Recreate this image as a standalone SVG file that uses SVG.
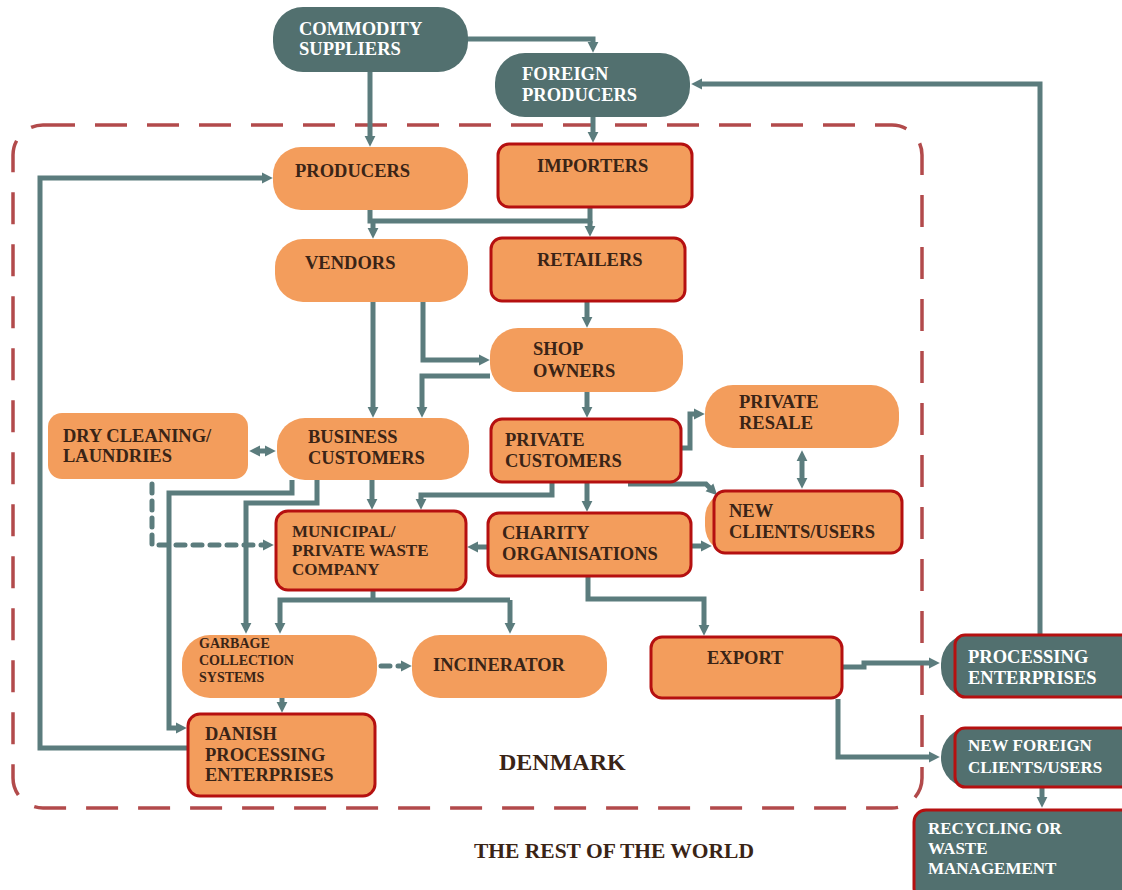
<svg xmlns="http://www.w3.org/2000/svg" width="1122" height="890" viewBox="0 0 1122 890">
  <style>
    .pill { fill: #f39d5c; }
    .box { fill: #f39d5c; stroke: #b51010; stroke-width: 3; }
    .tpill { fill: #52706f; }
    .tbox { fill: #52706f; stroke: #b51010; stroke-width: 3; }
    .lbl { font-family: "Liberation Serif", "Times New Roman", serif; font-weight: bold; font-size: 18.5px; fill: #3a2416; }
    .wlbl { font-family: "Liberation Serif", "Times New Roman", serif; font-weight: bold; font-size: 18.5px; fill: #ffffff; }
    .conn { fill: none; stroke: #5b7c7d; stroke-width: 5; stroke-linejoin: miter; }
    .arr { marker-end: url(#ah); }
    .dbl { marker-end: url(#ah); marker-start: url(#ah); }
    .dash { stroke-dasharray: 9 8; stroke-linecap: round; }
    .border { fill: none; stroke: #b24a4b; stroke-width: 3.5; stroke-dasharray: 32 20; }
  </style>
  <defs>
    <marker id="ah" viewBox="0 0 10 10" refX="2" refY="5" markerUnits="userSpaceOnUse" markerWidth="11" markerHeight="13" orient="auto-start-reverse">
      <path d="M0,0 L10,5 L0,10 z" fill="#5b7c7d"/>
    </marker>
  </defs>

  <rect width="1122" height="890" fill="#ffffff"/>

  <!-- Denmark boundary -->
  <rect class="border" x="13" y="125" width="909" height="683" rx="30"/>

  <!-- connectors -->
  <g id="connectors">
    <path class="conn arr" d="M468 39 H593 V44"/>
    <path class="conn arr" d="M370 72 V138"/>
    <path class="conn arr" d="M593 117 V134"/>
    <path class="conn arr" d="M1040 634 V84 H700"/>
    <path class="conn" d="M370 210 V221 H590 V207"/>
    <path class="conn arr" d="M373 221 V230"/>
    <path class="conn arr" d="M590 221 V228"/>
    <path class="conn arr" d="M187 748 H40 V178 H264"/>
    <path class="conn arr" d="M373 302 V409"/>
    <path class="conn arr" d="M423 302 V360 H481"/>
    <path class="conn arr" d="M490 376 H422 V409"/>
    <path class="conn arr" d="M587 302 V319"/>
    <path class="conn arr" d="M587 392 V409"/>
    <path class="conn arr" d="M682 448 H690 V414 H696"/>
    <path class="conn dbl" d="M802 459 V480"/>
    <path class="conn arr" d="M628 484 H706 L711 489"/>
    <path class="conn arr" d="M552 482 V495 H421 V501"/>
    <path class="conn arr" d="M587 482 V503"/>
    <path class="conn arr" d="M372 480 V501"/>
    <path class="conn arr" d="M292 480 V493 H169 V728 H178"/>
    <path class="conn arr" d="M317 480 V503 H246 V625"/>
    <path class="conn" d="M373 591 V600"/>
    <path class="conn arr" d="M510 600 H280 V625"/>
    <path class="conn arr" d="M510 600 V625"/>
    <path class="conn arr" d="M487 547 H476"/>
    <path class="conn arr" d="M692 546 H703"/>
    <path class="conn arr" d="M588 577 V599 H704 V627"/>
    <path class="conn arr" d="M843 667 H864 V663 H931"/>
    <path class="conn arr" d="M838 699 V757 H931"/>
    <path class="conn arr" d="M1042 788 V799"/>
    <path class="conn arr" d="M282 698 V704"/>
    <path class="conn dash arr" d="M381 666 H403"/>
    <path class="conn dbl" d="M258 451 H267"/>
    <path class="conn dash arr" d="M152 484 V545 H265"/>
  </g>

  <!-- nodes -->
  <g id="commodity-suppliers">
    <rect class="tpill" x="273" y="7" width="195" height="65" rx="30"/>
    <text class="wlbl" x="299" y="35">COMMODITY</text>
    <text class="wlbl" x="299" y="55">SUPPLIERS</text>
  </g>
  <g id="foreign-producers">
    <rect class="tpill" x="495" y="53" width="195" height="64" rx="30"/>
    <text class="wlbl" x="522" y="80">FOREIGN</text>
    <text class="wlbl" x="522" y="101">PRODUCERS</text>
  </g>
  <g id="producers">
    <rect class="pill" x="273" y="147" width="195" height="63" rx="28"/>
    <text class="lbl" x="295" y="177">PRODUCERS</text>
  </g>
  <g id="importers">
    <rect class="box" x="498" y="144" width="194" height="63" rx="11"/>
    <text class="lbl" x="537" y="172">IMPORTERS</text>
  </g>
  <g id="vendors">
    <rect class="pill" x="275" y="239" width="193" height="63" rx="28"/>
    <text class="lbl" x="305" y="269">VENDORS</text>
  </g>
  <g id="retailers">
    <rect class="box" x="491" y="238" width="194" height="63" rx="11"/>
    <text class="lbl" x="537" y="266">RETAILERS</text>
  </g>
  <g id="shop-owners">
    <rect class="pill" x="490" y="328" width="193" height="64" rx="28"/>
    <text class="lbl" x="533" y="355">SHOP</text>
    <text class="lbl" x="533" y="377">OWNERS</text>
  </g>
  <g id="private-resale">
    <rect class="pill" x="705" y="385" width="194" height="63" rx="28"/>
    <text class="lbl" x="739" y="408">PRIVATE</text>
    <text class="lbl" x="739" y="429">RESALE</text>
  </g>
  <g id="dry-cleaning">
    <rect class="pill" x="48" y="413" width="200" height="66" rx="14"/>
    <text class="lbl" x="63" y="442">DRY CLEANING/</text>
    <text class="lbl" x="63" y="462">LAUNDRIES</text>
  </g>
  <g id="business-customers">
    <rect class="pill" x="277" y="418" width="192" height="62" rx="28"/>
    <text class="lbl" x="308" y="443">BUSINESS</text>
    <text class="lbl" x="308" y="464">CUSTOMERS</text>
  </g>
  <g id="private-customers">
    <rect class="box" x="491" y="419" width="190" height="63" rx="11"/>
    <text class="lbl" x="505" y="446">PRIVATE</text>
    <text class="lbl" x="505" y="467">CUSTOMERS</text>
  </g>
  <g id="new-clients">
    <rect class="pill" x="705" y="490" width="160" height="64" rx="28"/>
    <rect class="box" x="714" y="491" width="188" height="62" rx="11"/>
    <text class="lbl" x="729" y="517">NEW</text>
    <text class="lbl" x="729" y="538">CLIENTS/USERS</text>
  </g>
  <g id="municipal-waste">
    <rect class="box" x="276" y="511" width="190" height="79" rx="12"/>
    <text class="lbl" x="292" y="537" style="font-size:17px">MUNICIPAL/</text>
    <text class="lbl" x="292" y="556" style="font-size:17px">PRIVATE WASTE</text>
    <text class="lbl" x="292" y="575" style="font-size:17px">COMPANY</text>
  </g>
  <g id="charity">
    <rect class="box" x="488" y="513" width="203" height="63" rx="11"/>
    <text class="lbl" x="502" y="539">CHARITY</text>
    <text class="lbl" x="502" y="560">ORGANISATIONS</text>
  </g>
  <g id="garbage-collection">
    <rect class="pill" x="182" y="635" width="195" height="63" rx="28"/>
    <text class="lbl" x="199" y="648" style="font-size:14px">GARBAGE</text>
    <text class="lbl" x="199" y="665" style="font-size:14px">COLLECTION</text>
    <text class="lbl" x="199" y="682" style="font-size:14px">SYSTEMS</text>
  </g>
  <g id="incinerator">
    <rect class="pill" x="412" y="635" width="195" height="63" rx="28"/>
    <text class="lbl" x="433" y="671">INCINERATOR</text>
  </g>
  <g id="export">
    <rect class="box" x="651" y="637" width="191" height="61" rx="11"/>
    <text class="lbl" x="707" y="664">EXPORT</text>
  </g>
  <g id="danish-processing">
    <rect class="box" x="188" y="714" width="187" height="82" rx="12"/>
    <text class="lbl" x="205" y="740">DANISH</text>
    <text class="lbl" x="205" y="761">PROCESSING</text>
    <text class="lbl" x="205" y="781">ENTERPRISES</text>
  </g>
  <g id="processing-enterprises">
    <rect class="tpill" x="941" y="634" width="200" height="64" rx="30"/>
    <rect class="tbox" x="955" y="635" width="180" height="62" rx="10"/>
    <text class="wlbl" x="968" y="663">PROCESSING</text>
    <text class="wlbl" x="968" y="684">ENTERPRISES</text>
  </g>
  <g id="new-foreign-clients">
    <rect class="tpill" x="941" y="727" width="200" height="61" rx="30"/>
    <rect class="tbox" x="955" y="728" width="180" height="59" rx="10"/>
    <text class="wlbl" x="968" y="751" style="font-size:17px">NEW FOREIGN</text>
    <text class="wlbl" x="968" y="773" style="font-size:17px">CLIENTS/USERS</text>
  </g>
  <g id="recycling">
    <rect class="tbox" x="914" y="810" width="220" height="90" rx="12"/>
    <text class="wlbl" x="928" y="834" style="font-size:17px">RECYCLING OR</text>
    <text class="wlbl" x="928" y="854" style="font-size:17px">WASTE</text>
    <text class="wlbl" x="928" y="874" style="font-size:17px">MANAGEMENT</text>
  </g>

  <!-- region labels -->
  <text class="lbl" x="499" y="770" style="font-size:24px">DENMARK</text>
  <text class="lbl" x="474" y="858" style="font-size:21.5px">THE REST OF THE WORLD</text>
</svg>
